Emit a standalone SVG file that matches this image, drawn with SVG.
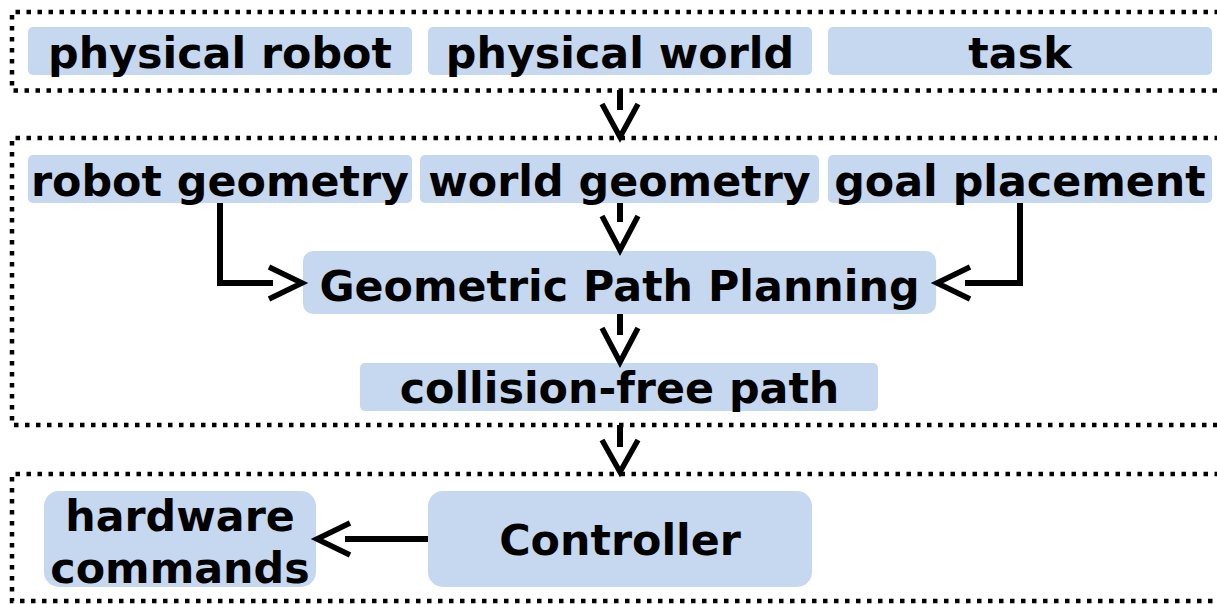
<svg xmlns="http://www.w3.org/2000/svg" width="1217" height="604" viewBox="0 0 1217 604">
  <style>
    .frame { fill: none; stroke: #000; stroke-width: 4.5; stroke-dasharray: 4.5 6.5; }
    .node { fill: #c6d8f0; }
    .label { font-family: "DejaVu Sans", "Liberation Sans", sans-serif; font-weight: bold; font-size: 42.8px; text-anchor: middle; fill: #000; }
    .wire { fill: none; stroke: #000; stroke-width: 6; stroke-linecap: butt; stroke-linejoin: miter; }
    .head { fill: none; stroke: #000; stroke-width: 5.5; stroke-linecap: butt; stroke-linejoin: miter; }
  </style>
  <rect x="0" y="0" width="1217" height="604" fill="#fff"/>

  <!-- layer frames (open on the right) -->
  <g id="frames">
    <path class="frame" d="M1230 12 H12 V90.5 H1230"/>
    <path class="frame" d="M1230 138 H12 V425 H1230"/>
    <path class="frame" d="M1230 474 H12 V601 H1230"/>
  </g>

  <g id="physical-robot">
    <rect class="node" x="28" y="27" width="384" height="48" rx="5"/>
    <text class="label" x="220" y="68">physical robot</text>
  </g>
  <g id="physical-world">
    <rect class="node" x="428" y="27" width="384" height="48" rx="5"/>
    <text class="label" x="620" y="68">physical world</text>
  </g>
  <g id="task">
    <rect class="node" x="828" y="27" width="384" height="48" rx="5"/>
    <text class="label" x="1020" y="68">task</text>
  </g>

  <g id="robot-geometry">
    <rect class="node" x="28" y="155" width="384" height="48" rx="5"/>
    <text class="label" x="220" y="196">robot geometry</text>
  </g>
  <g id="world-geometry">
    <rect class="node" x="420" y="155" width="399" height="48" rx="5"/>
    <text class="label" x="619.5" y="196">world geometry</text>
  </g>
  <g id="goal-placement">
    <rect class="node" x="828" y="155" width="384" height="48" rx="5"/>
    <text class="label" x="1020" y="196">goal placement</text>
  </g>

  <g id="geometric-path-planning">
    <rect class="node" x="303" y="251" width="633" height="63" rx="10"/>
    <text class="label" x="619.5" y="301">Geometric Path Planning</text>
  </g>
  <g id="collision-free-path">
    <rect class="node" x="360" y="363" width="518" height="48" rx="5"/>
    <text class="label" x="619.5" y="403">collision-free path</text>
  </g>

  <g id="hardware-commands">
    <rect class="node" x="44" y="491" width="272" height="96" rx="15"/>
    <text class="label" x="180" y="531">hardware</text>
    <text class="label" x="180" y="583">commands</text>
  </g>
  <g id="controller">
    <rect class="node" x="428" y="491" width="384" height="96" rx="15"/>
    <text class="label" x="620" y="555">Controller</text>
  </g>

  <!-- connectors -->
  <g id="connectors">
    <line class="wire" x1="620" y1="90" x2="620" y2="110"/>
    <polyline class="head" points="602,104 620,137 638,104"/>

    <line class="wire" x1="620" y1="203" x2="620" y2="222"/>
    <polyline class="head" points="602,216 620,250 638,216"/>

    <path class="wire" d="M220 203 V283 H273"/>
    <polyline class="head" points="269,267 302,283 269,299"/>

    <path class="wire" d="M1020 203 V283 H965"/>
    <polyline class="head" points="970,267 937,283 970,299"/>

    <line class="wire" x1="620" y1="314" x2="620" y2="335"/>
    <polyline class="head" points="602,328 620,362 638,328"/>

    <line class="wire" x1="620" y1="425" x2="620" y2="447"/>
    <polyline class="head" points="602,440 620,472 638,440"/>

    <line class="wire" x1="428" y1="539" x2="345" y2="539"/>
    <polyline class="head" points="350,523 317,539 350,555"/>
  </g>
</svg>
